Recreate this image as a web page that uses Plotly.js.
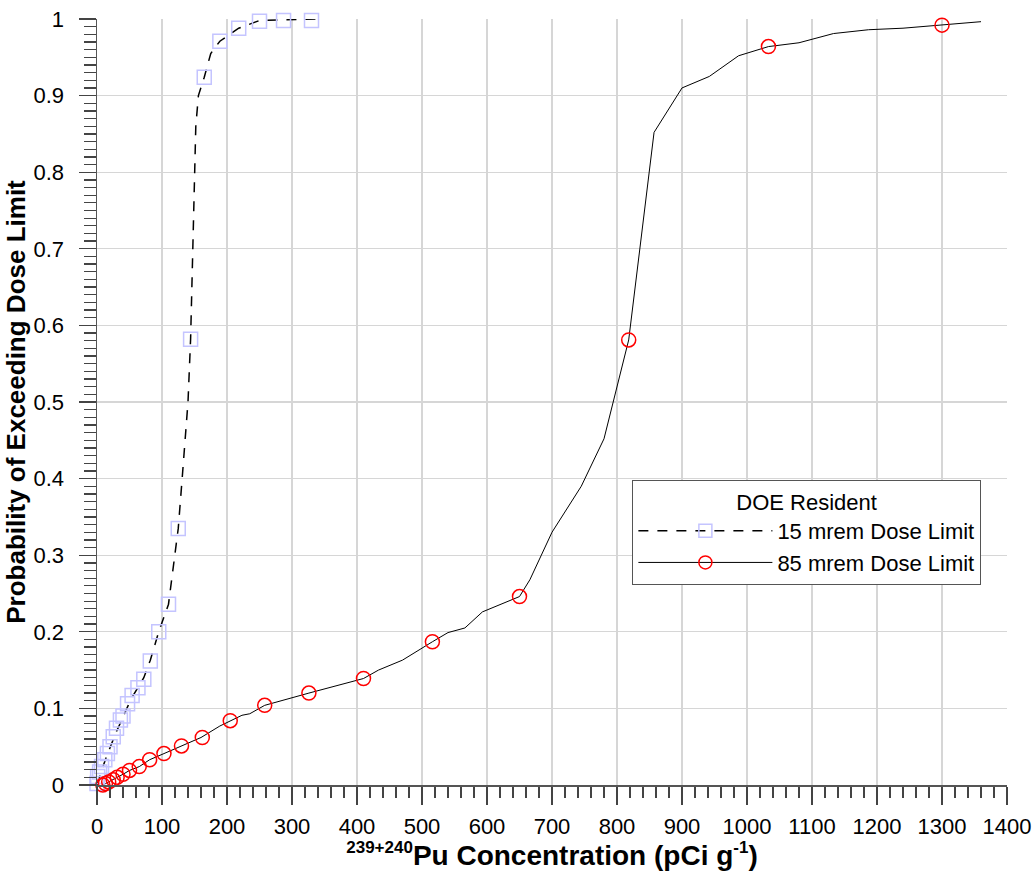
<!DOCTYPE html>
<html>
<head>
<meta charset="utf-8">
<script src="https://cdn.plot.ly/plotly-3.0.1.min.js"></script>
<style>html,body{margin:0;padding:0;background:#fff;}#chart{width:1035px;height:871px;}</style>
</head>
<body>
<div id="chart"></div>
<script>
// 15 mrem Dose Limit: curve points
const line15X = [0, 5, 10, 15, 20, 25, 30, 36, 42, 48, 55, 63, 72, 82, 95, 110, 125, 131, 140, 144, 147, 149.5, 152, 156, 165, 175, 189, 218, 250, 287, 340];
const line15Y = [0.0, 0.014, 0.026, 0.038, 0.049, 0.060, 0.070, 0.081, 0.093, 0.104, 0.116, 0.127, 0.140, 0.163, 0.200, 0.236, 0.335, 0.400, 0.500, 0.582, 0.700, 0.800, 0.860, 0.900, 0.924, 0.955, 0.971, 0.988, 0.998, 0.999, 1.000];
// 15 mrem Dose Limit: marked points
const mark15X = [0, 1, 4, 7, 12, 16, 20, 25, 30, 36, 40, 47, 54, 63, 72, 82, 95, 110, 125, 144, 165, 189, 218, 250, 287, 330];
const mark15Y = [0.002, 0.011, 0.017, 0.024, 0.033, 0.041, 0.050, 0.063, 0.074, 0.085, 0.090, 0.106, 0.117, 0.127, 0.138, 0.162, 0.200, 0.236, 0.335, 0.582, 0.924, 0.971, 0.988, 0.997, 0.998, 0.998];

// 85 mrem Dose Limit: curve points
const line85X = [9, 13, 18, 25, 31, 40, 50, 65, 81, 103, 130, 160, 189, 205, 223, 235, 258, 326, 410, 433, 470, 516, 540, 566, 593, 650, 666, 700, 745, 780, 818, 857, 900, 942, 987, 1033, 1080, 1133, 1187, 1240, 1300, 1360];
const line85Y = [0.0, 0.002, 0.004, 0.007, 0.010, 0.014, 0.019, 0.024, 0.033, 0.041, 0.051, 0.062, 0.077, 0.084, 0.091, 0.093, 0.104, 0.120, 0.139, 0.150, 0.163, 0.187, 0.199, 0.205, 0.226, 0.246, 0.268, 0.330, 0.390, 0.452, 0.581, 0.852, 0.910, 0.925, 0.952, 0.964, 0.969, 0.981, 0.986, 0.988, 0.992, 0.9965];
// 85 mrem Dose Limit: marked points
const mark85X = [9, 13, 18, 25, 31, 40, 50, 65, 81, 103, 130, 162, 205, 258, 326, 410, 516, 650, 818, 1033, 1300];
const mark85Y = [0.0, 0.002, 0.004, 0.007, 0.010, 0.014, 0.019, 0.024, 0.033, 0.041, 0.051, 0.062, 0.084, 0.104, 0.120, 0.139, 0.187, 0.246, 0.581, 0.964, 0.992];

const seriesNames = ['15 mrem Dose Limit', '85 mrem Dose Limit'];
const legendTitle = 'DOE Resident';
const xTitle = '<b><sup><span style="font-size:17px">239+240</span></sup>Pu Concentration (pCi g<sup><span style="font-size:17px">-1</span></sup>)</b>';
const yTitle = '<b>Probability of Exceeding Dose Limit</b>';

const sqColor = '#c4c4ff';
const circColor = '#ff0000';
const dashStyle = '10px,9px';

const traces = [
  {x: line15X, y: line15Y, mode: 'lines', line: {color: '#000', width: 1.5, dash: dashStyle}, showlegend: false, hoverinfo: 'skip'},
  {x: line85X, y: line85Y, mode: 'lines', line: {color: '#000', width: 1}, showlegend: false, hoverinfo: 'skip'},
  {x: mark15X, y: mark15Y, mode: 'markers', cliponaxis: false, showlegend: false,
   marker: {symbol: 'square-open', size: 14, color: sqColor, line: {width: 1.5, color: sqColor}}},
  {x: mark85X, y: mark85Y, mode: 'markers', cliponaxis: false, showlegend: false,
   marker: {symbol: 'circle-open', size: 14, color: circColor, line: {width: 1.5, color: circColor}}},
  // legend entries
  {x: [null], y: [null], mode: 'lines+markers', name: seriesNames[0],
   line: {color: '#000', width: 1.5, dash: dashStyle},
   marker: {symbol: 'square-open', size: 13, color: sqColor, line: {width: 1.5, color: sqColor}}},
  {x: [null], y: [null], mode: 'lines+markers', name: seriesNames[1],
   line: {color: '#000', width: 1},
   marker: {symbol: 'circle-open', size: 13, color: circColor, line: {width: 1.5, color: circColor}}}
];

const axisCommon = {
  showgrid: true, gridcolor: '#d6d6d6', gridwidth: 1.3,
  showline: true, linecolor: '#555', linewidth: 1.5,
  ticks: 'outside', tickcolor: '#444', tickwidth: 1.3,
  zeroline: false,
  tickfont: {size: 22, color: '#000'}
};

const layout = {
  width: 1035, height: 871,
  margin: {l: 97, r: 28, t: 19, b: 86},
  paper_bgcolor: '#fff', plot_bgcolor: '#fff',
  font: {family: 'Liberation Sans, Arial, sans-serif', color: '#000'},
  xaxis: Object.assign({}, axisCommon, {
    range: [0, 1400], tick0: 0, dtick: 100, ticklen: 18, ticklabelstandoff: 3,
    minor: {dtick: 20, ticks: 'outside', ticklen: 11, tickcolor: '#444', tickwidth: 1.3, showgrid: false},
    title: {text: xTitle, font: {size: 28, color: '#000'}, standoff: 8}
  }),
  yaxis: Object.assign({}, axisCommon, {
    range: [0, 1], tick0: 0, dtick: 0.1, ticklen: 17, ticklabelstandoff: 10,
    minor: {dtick: 0.01, ticks: 'outside', ticklen: 12, tickcolor: '#444', tickwidth: 1.3, showgrid: false},
    title: {text: yTitle, font: {size: 26, color: '#000'}, standoff: 0}
  }),
  legend: {
    x: 0.588, y: 0.398, xanchor: 'left', yanchor: 'top',
    bgcolor: '#fff', bordercolor: '#555', borderwidth: 1.3,
    font: {size: 22, color: '#000'},
    title: {text: legendTitle, side: 'top center', font: {size: 22, color: '#000'}},
    itemwidth: 134,
    tracegroupgap: 0
  },
  showlegend: true
};

Plotly.newPlot('chart', traces, layout, {displayModeBar: false, staticPlot: true});
</script>
</body>
</html>
